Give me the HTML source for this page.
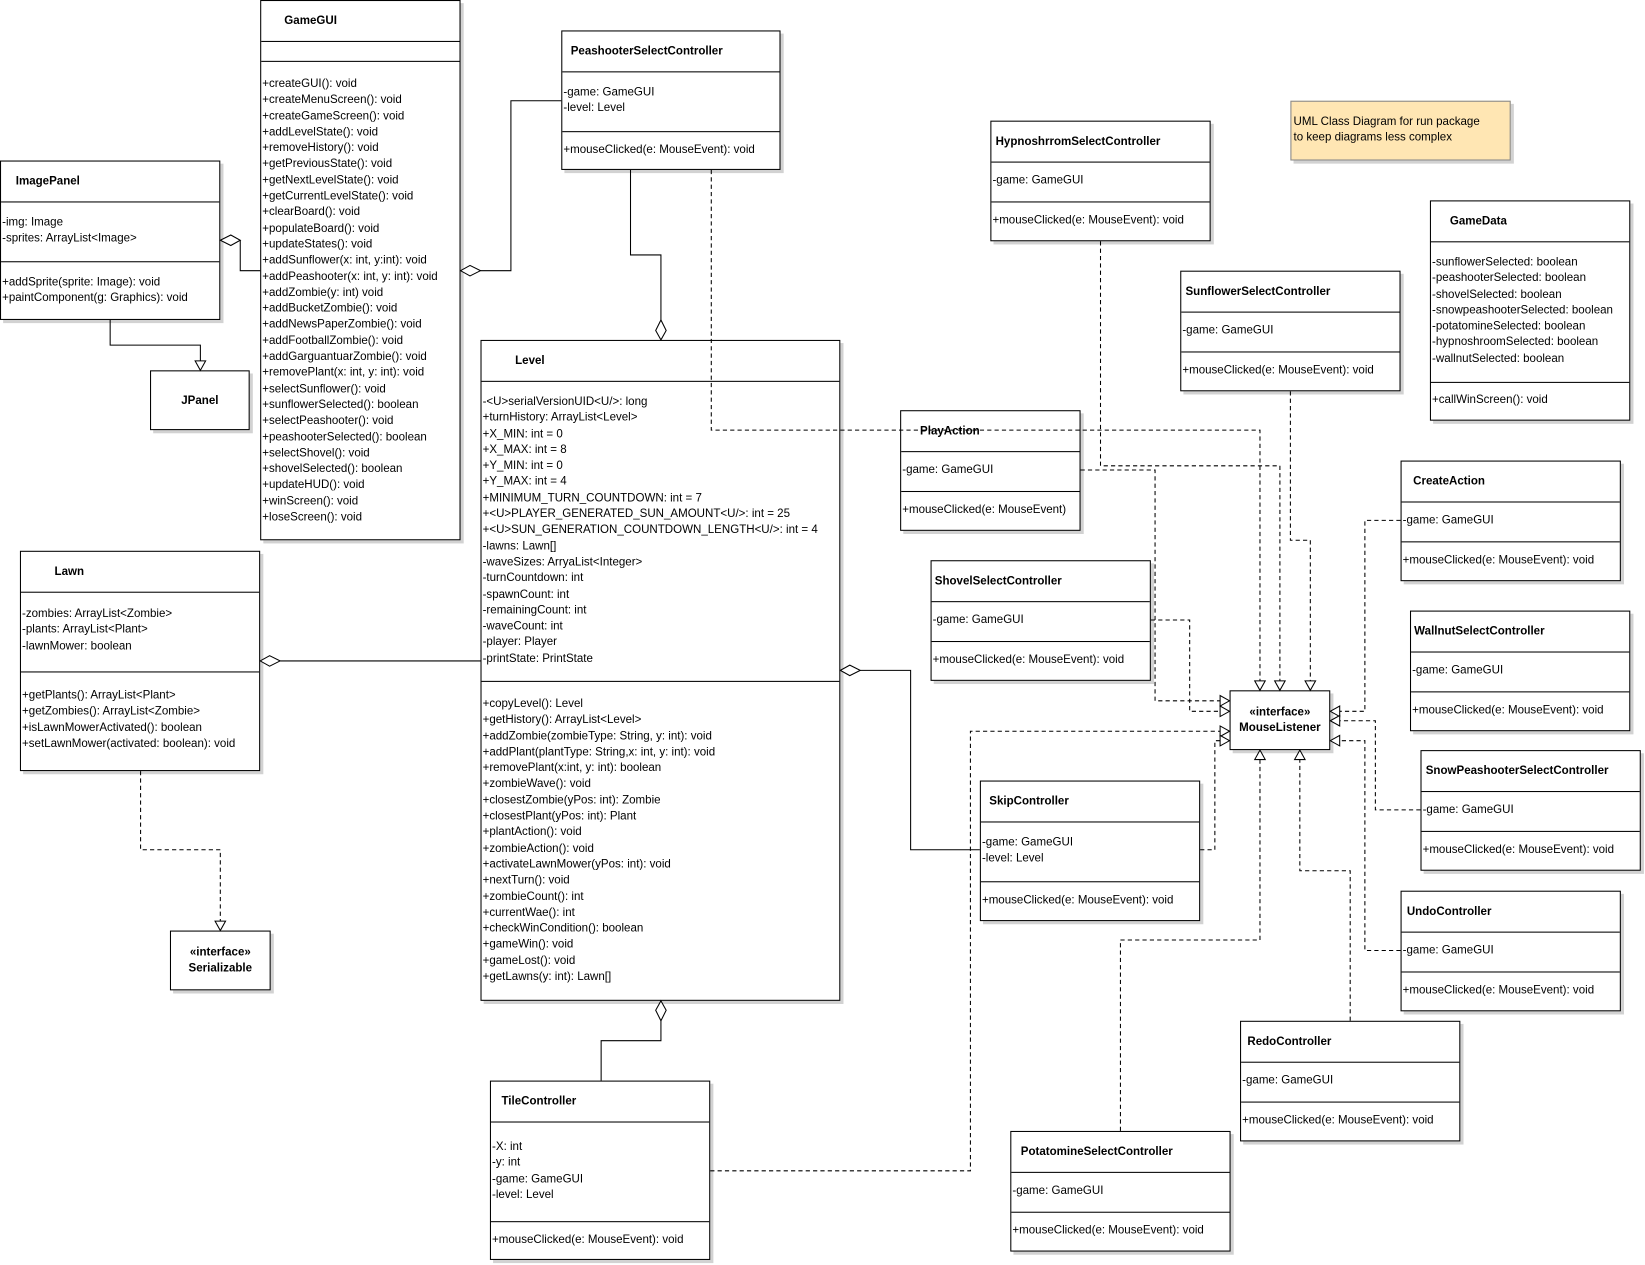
<!DOCTYPE html>
<html><head><meta charset="utf-8"><style>
html,body{margin:0;padding:0;background:#fff;width:1645px;height:1265px;overflow:hidden}
#c{position:absolute;left:0;top:0;width:1568px;height:1206px;transform:scale(1.0491);transform-origin:0 0;font-family:"Liberation Sans",sans-serif;font-size:11px;color:#000}
.b{position:absolute;border:1px solid #000;background:#fff;box-shadow:3px 3px 0 #d2d2d2;box-sizing:border-box}
.h{position:absolute;top:12px;font-weight:bold;line-height:15px;white-space:pre}
.d{position:absolute;left:0;right:0;border-top:1px solid #000}
.t{position:absolute;left:1px;white-space:pre;line-height:15.3px}
.i{position:absolute;left:0;right:0;text-align:center;font-weight:bold;line-height:15px}
svg{position:absolute;left:0;top:0}
</style></head><body><div id="c">

<div class="b" style="left:248px;top:0;width:191px;height:515px"><div class="h" style="left:22px">GameGUI</div><div class="d" style="top:38px"></div><div class="d" style="top:57px"></div><div class="t" style="top:72px">+createGUI(): void
+createMenuScreen(): void
+createGameScreen(): void
+addLevelState(): void
+removeHistory(): void
+getPreviousState(): void
+getNextLevelState(): void
+getCurrentLevelState(): void
+clearBoard(): void
+populateBoard(): void
+updateStates(): void
+addSunflower(x: int, y:int): void
+addPeashooter(x: int, y: int): void
+addZombie(y: int) void
+addBucketZombie(): void
+addNewsPaperZombie(): void
+addFootballZombie(): void
+addGarguantuarZombie(): void
+removePlant(x: int, y: int): void
+selectSunflower(): void
+sunflowerSelected(): boolean
+selectPeashooter(): void
+peashooterSelected(): boolean
+selectShovel(): void
+shovelSelected(): boolean
+updateHUD(): void
+winScreen(): void
+loseScreen(): void</div></div>

<div class="b" style="left:535px;top:29px;width:209px;height:133px"><div class="h" style="left:8px">PeashooterSelectController</div><div class="d" style="top:38px"></div><div class="d" style="top:95px"></div><div class="t" style="top:51px">-game: GameGUI
-level: Level</div><div class="t" style="top:106px">+mouseClicked(e: MouseEvent): void</div></div>

<div class="b" style="left:0;top:153px;width:210px;height:152px"><div class="h" style="left:14px">ImagePanel</div><div class="d" style="top:38px"></div><div class="d" style="top:95px"></div><div class="t" style="top:51px">-img: Image
-sprites: ArrayList&lt;Image&gt;</div><div class="t" style="top:108px">+addSprite(sprite: Image): void
+paintComponent(g: Graphics): void</div></div>

<div class="b" style="left:143px;top:353px;width:95px;height:57px"><div class="i" style="top:21px">JPanel</div></div>

<div style="position:absolute;left:1230px;top:96px;width:210px;height:57px;background:#ffe6b3;border:1px solid #888;box-sizing:border-box;box-shadow:3px 3px 0 #d2d2d2"><div class="t" style="top:12px;left:2px;line-height:15px">UML Class Diagram for run package
to keep diagrams less complex</div></div>

<div class="b" style="left:944px;top:115px;width:210px;height:115px"><div class="h" style="left:4px">HypnoshrromSelectController</div><div class="d" style="top:38px"></div><div class="d" style="top:76px"></div><div class="t" style="top:49px">-game: GameGUI</div><div class="t" style="top:87px">+mouseClicked(e: MouseEvent): void</div></div>

<div class="b" style="left:1363px;top:191px;width:191px;height:210px"><div class="h" style="left:18px">GameData</div><div class="d" style="top:38px"></div><div class="d" style="top:172px"></div><div class="t" style="top:51px">-sunflowerSelected: boolean
-peashooterSelected: boolean
-shovelSelected: boolean
-snowpeashooterSelected: boolean
-potatomineSelected: boolean
-hypnoshroomSelected: boolean
-wallnutSelected: boolean</div><div class="t" style="top:182px">+callWinScreen(): void</div></div>

<div class="b" style="left:1125px;top:258px;width:210px;height:115px"><div class="h" style="left:4px">SunflowerSelectController</div><div class="d" style="top:38px"></div><div class="d" style="top:76px"></div><div class="t" style="top:49px">-game: GameGUI</div><div class="t" style="top:87px">+mouseClicked(e: MouseEvent): void</div></div>

<div class="b" style="left:458px;top:324px;width:343px;height:630px"><div class="h" style="left:32px">Level</div><div class="d" style="top:38px"></div><div class="d" style="top:324px"></div><div class="t" style="top:51px">-&lt;U&gt;serialVersionUID&lt;U/&gt;: long
+turnHistory: ArrayList&lt;Level&gt;
+X_MIN: int = 0
+X_MAX: int = 8
+Y_MIN: int = 0
+Y_MAX: int = 4
+MINIMUM_TURN_COUNTDOWN: int = 7
+&lt;U&gt;PLAYER_GENERATED_SUN_AMOUNT&lt;U/&gt;: int = 25
+&lt;U&gt;SUN_GENERATION_COUNTDOWN_LENGTH&lt;U/&gt;: int = 4
-lawns: Lawn[]
-waveSizes: ArryaList&lt;Integer&gt;
-turnCountdown: int
-spawnCount: int
-remainingCount: int
-waveCount: int
-player: Player
-printState: PrintState</div><div class="t" style="top:339px">+copyLevel(): Level
+getHistory(): ArrayList&lt;Level&gt;
+addZombie(zombieType: String, y: int): void
+addPlant(plantType: String,x: int, y: int): void
+removePlant(x:int, y: int): boolean
+zombieWave(): void
+closestZombie(yPos: int): Zombie
+closestPlant(yPos: int): Plant
+plantAction(): void
+zombieAction(): void
+activateLawnMower(yPos: int): void
+nextTurn(): void
+zombieCount(): int
+currentWae(): int
+checkWinCondition(): boolean
+gameWin(): void
+gameLost(): void
+getLawns(y: int): Lawn[]</div></div>

<div class="b" style="left:858px;top:391px;width:172px;height:115px"><div class="h" style="left:18px">PlayAction</div><div class="d" style="top:38px"></div><div class="d" style="top:76px"></div><div class="t" style="top:49px">-game: GameGUI</div><div class="t" style="top:87px">+mouseClicked(e: MouseEvent)</div></div>

<div class="b" style="left:1335px;top:439px;width:210px;height:115px"><div class="h" style="left:11px">CreateAction</div><div class="d" style="top:38px"></div><div class="d" style="top:76px"></div><div class="t" style="top:49px">-game: GameGUI</div><div class="t" style="top:87px">+mouseClicked(e: MouseEvent): void</div></div>

<div class="b" style="left:19px;top:525px;width:229px;height:210px"><div class="h" style="left:32px">Lawn</div><div class="d" style="top:38px"></div><div class="d" style="top:114px"></div><div class="t" style="top:52px">-zombies: ArrayList&lt;Zombie&gt;
-plants: ArrayList&lt;Plant&gt;
-lawnMower: boolean</div><div class="t" style="top:130px">+getPlants(): ArrayList&lt;Plant&gt;
+getZombies(): ArrayList&lt;Zombie&gt;
+isLawnMowerActivated(): boolean
+setLawnMower(activated: boolean): void</div></div>

<div class="b" style="left:887px;top:534px;width:210px;height:115px"><div class="h" style="left:3px">ShovelSelectController</div><div class="d" style="top:38px"></div><div class="d" style="top:76px"></div><div class="t" style="top:49px">-game: GameGUI</div><div class="t" style="top:87px">+mouseClicked(e: MouseEvent): void</div></div>

<div class="b" style="left:1344px;top:582px;width:210px;height:115px"><div class="h" style="left:3px">WallnutSelectController</div><div class="d" style="top:38px"></div><div class="d" style="top:76px"></div><div class="t" style="top:49px">-game: GameGUI</div><div class="t" style="top:87px">+mouseClicked(e: MouseEvent): void</div></div>

<div class="b" style="left:1172px;top:658px;width:96px;height:57px"><div class="i" style="top:13px">«interface»<br>MouseListener</div></div>

<div class="b" style="left:1354px;top:715px;width:210px;height:115px"><div class="h" style="left:4px">SnowPeashooterSelectController</div><div class="d" style="top:38px"></div><div class="d" style="top:76px"></div><div class="t" style="top:49px">-game: GameGUI</div><div class="t" style="top:87px">+mouseClicked(e: MouseEvent): void</div></div>

<div class="b" style="left:934px;top:744px;width:210px;height:134px"><div class="h" style="left:8px">SkipController</div><div class="d" style="top:38px"></div><div class="d" style="top:95px"></div><div class="t" style="top:51px">-game: GameGUI
-level: Level</div><div class="t" style="top:106px">+mouseClicked(e: MouseEvent): void</div></div>

<div class="b" style="left:1335px;top:849px;width:210px;height:115px"><div class="h" style="left:5px">UndoController</div><div class="d" style="top:38px"></div><div class="d" style="top:76px"></div><div class="t" style="top:49px">-game: GameGUI</div><div class="t" style="top:87px">+mouseClicked(e: MouseEvent): void</div></div>

<div class="b" style="left:162px;top:887px;width:96px;height:57px"><div class="i" style="top:13px">«interface»<br>Serializable</div></div>

<div class="b" style="left:1182px;top:973px;width:210px;height:115px"><div class="h" style="left:6px">RedoController</div><div class="d" style="top:38px"></div><div class="d" style="top:76px"></div><div class="t" style="top:49px">-game: GameGUI</div><div class="t" style="top:87px">+mouseClicked(e: MouseEvent): void</div></div>

<div class="b" style="left:467px;top:1030px;width:210px;height:171px"><div class="h" style="left:10px">TileController</div><div class="d" style="top:38px"></div><div class="d" style="top:133px"></div><div class="t" style="top:55px">-X: int
-y: int
-game: GameGUI
-level: Level</div><div class="t" style="top:144px">+mouseClicked(e: MouseEvent): void</div></div>

<div class="b" style="left:963px;top:1078px;width:210px;height:115px"><div class="h" style="left:9px">PotatomineSelectController</div><div class="d" style="top:38px"></div><div class="d" style="top:76px"></div><div class="t" style="top:49px">-game: GameGUI</div><div class="t" style="top:87px">+mouseClicked(e: MouseEvent): void</div></div>

<svg width="1568" height="1206" viewBox="0 0 1568 1206">
<g fill="none" stroke="#000" stroke-width="1">
<polyline points="229,229 229,258 248,258"/>
<polyline points="458,258 487,258 487,96 535,96"/>
<polyline points="601,162 601,243 630,243 630,305"/>
<polyline points="105,305 105,329 191,329 191,344"/>
<polyline points="267,630 458,630"/>
<polyline points="820,639 868,639 868,810 934,810"/>
<polyline points="630,973 630,992 573,992 573,1030"/>
</g>
<g fill="none" stroke="#000" stroke-width="1" stroke-dasharray="4,3">
<polyline points="134,735 134,810 210,810 210,878"/>
<polyline points="678,162 678,410 1201,410 1201,649"/>
<polyline points="1049,230 1049,444 1220,444 1220,649"/>
<polyline points="1230,373 1230,515 1249,515 1249,649"/>
<polyline points="1030,448 1101,448 1101,668 1163,668"/>
<polyline points="1097,591 1134,591 1134,678 1163,678"/>
<polyline points="1335,496 1301,496 1301,678 1277,678"/>
<polyline points="1354,772 1311,772 1311,687 1277,687"/>
<polyline points="1335,906 1301,906 1301,706 1277,706"/>
<polyline points="677,1116 925,1116 925,697 1163,697"/>
<polyline points="1144,810 1158,810 1158,706 1163,706"/>
<polyline points="1068,1078 1068,896 1201,896 1201,724"/>
<polyline points="1287,973 1287,830 1239,830 1239,724"/>
</g>
<g fill="#fff" stroke="#000" stroke-width="1">
<polygon points="210,229 220,224 229,229 220,234"/>
<polygon points="439,258 448,253 458,258 448,263"/>
<polygon points="630,324 625,315 630,305 635,315"/>
<polygon points="248,630 257,625 267,630 257,635"/>
<polygon points="801,639 810,634 820,639 810,644"/>
<polygon points="630,954 635,963 630,973 625,963"/>
<polygon points="191,353 186,344 196,344"/>
<polygon points="210,887 205,878 215,878"/>
<polygon points="1201,658 1196,649 1206,649"/>
<polygon points="1220,658 1215,649 1225,649"/>
<polygon points="1249,658 1244,649 1254,649"/>
<polygon points="1172,668 1163,663 1163,673"/>
<polygon points="1172,678 1163,673 1163,683"/>
<polygon points="1172,697 1163,692 1163,702"/>
<polygon points="1172,706 1163,701 1163,711"/>
<polygon points="1268,678 1277,673 1277,683"/>
<polygon points="1268,687 1277,682 1277,692"/>
<polygon points="1268,706 1277,701 1277,711"/>
<polygon points="1201,715 1196,724 1206,724"/>
<polygon points="1239,715 1234,724 1244,724"/>
</g>
</svg>
</div></body></html>
